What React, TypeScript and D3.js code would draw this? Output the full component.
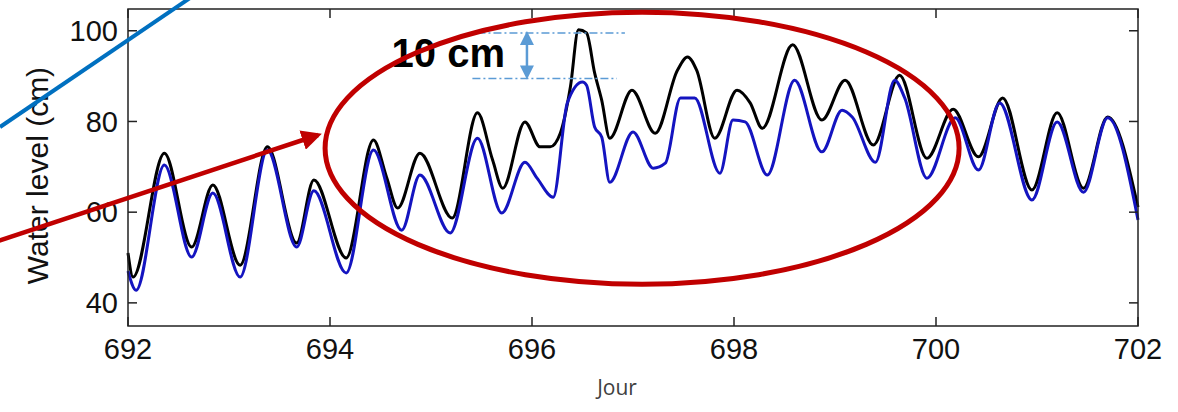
import React, { useEffect } from "react";
import * as d3 from "d3";

// time axis (days) and the two water level records (cm)
const blackDays = [692.0, 692.05, 692.36, 692.63, 692.84, 693.11, 693.38, 693.67, 693.84, 694.16, 694.43, 694.56, 694.67, 694.89, 695.21, 695.46, 695.61, 695.71, 695.93, 696.08, 696.18, 696.28, 696.38, 696.46, 696.54, 696.62, 696.69, 696.77, 696.99, 697.22, 697.44, 697.54, 697.63, 697.81, 698.03, 698.16, 698.28, 698.58, 698.87, 699.1, 699.38, 699.64, 699.91, 700.17, 700.42, 700.66, 700.95, 701.2, 701.46, 701.7, 702.0];
const blackLevel = [51.0, 45.7, 73.0, 52.3, 66.0, 48.3, 74.4, 53.2, 67.1, 49.9, 75.9, 67.7, 60.9, 73.0, 58.7, 81.9, 71.5, 65.3, 79.9, 74.4, 74.4, 77.4, 87.6, 100.2, 99.5, 90.7, 84.7, 76.3, 86.9, 77.4, 91.3, 94.2, 91.3, 76.3, 86.9, 84.1, 78.5, 96.9, 80.3, 89.1, 74.8, 90.2, 71.9, 82.7, 72.2, 85.2, 64.9, 81.9, 65.3, 81.0, 61.1];

const blueDays = [692.0, 692.08, 692.36, 692.63, 692.84, 693.11, 693.38, 693.67, 693.84, 694.16, 694.43, 694.71, 694.89, 695.19, 695.46, 695.7, 695.93, 696.05, 696.21, 696.35, 696.5, 696.54, 696.62, 696.69, 696.77, 697.0, 697.2, 697.32, 697.47, 697.61, 697.86, 697.99, 698.11, 698.33, 698.6, 698.87, 699.07, 699.17, 699.4, 699.59, 699.69, 699.91, 700.19, 700.42, 700.63, 700.95, 701.2, 701.46, 701.7, 702.0];
const blueLevel = [47.0, 42.8, 70.4, 50.1, 64.2, 45.7, 73.7, 52.3, 64.7, 46.6, 73.7, 56.0, 68.2, 55.4, 76.3, 59.8, 71.0, 67.5, 63.3, 84.1, 88.7, 88.0, 78.8, 76.6, 66.6, 77.7, 69.7, 70.8, 85.2, 85.2, 68.6, 80.3, 79.9, 68.2, 89.1, 73.3, 82.5, 81.0, 71.0, 89.1, 85.2, 67.5, 80.8, 69.3, 84.1, 62.7, 79.9, 64.4, 80.8, 58.3];

const xTicks = [692, 694, 696, 698, 700, 702];
const yTicks = [40, 60, 80, 100];

const width = 1178;
const height = 412;
const margin = { top: 9, right: 40, bottom: 86, left: 128 };

export default function App() {
    useEffect(() => {
        document.body.style.margin = "0";
    }, []);

    const innerW = width - margin.left - margin.right;
    const innerH = height - margin.top - margin.bottom;

    const x = d3.scaleLinear().domain([692, 702]).range([0, innerW]);
    const y = d3.scaleLinear().domain([34.9, 104.8]).range([innerH, 0]);

    const line = d3.line<[number, number]>()
        .x(d => x(d[0]))
        .y(d => y(d[1]))
        .curve(d3.curveMonotoneX);

    const blackPts = blackDays.map((t, i) => [t, blackLevel[i]] as [number, number]);
    const bluePts = blueDays.map((t, i) => [t, blueLevel[i]] as [number, number]);

    const tickLen = 9;
    const font = "'Liberation Sans', Arial, sans-serif";

    // 10 cm marker, in data units
    const hiY = y(99.5);
    const loY = y(89.5);
    const arrowX = x(695.95);

    // ellipse around the storm surge period
    const ecx = margin.left + x(697.09);
    const ecy = margin.top + y(74.1);

    return (
        <svg width={width} height={height} style={{ display: "block", background: "#fff" }}>
            <defs>
                <marker id="redHead" viewBox="0 0 10 10" refX="8" refY="5" markerWidth="4.5" markerHeight="4.5" orient="auto">
                    <path d="M0,0 L10,5 L0,10 z" fill="#c00000" />
                </marker>
            </defs>
            <g transform={`translate(${margin.left},${margin.top})`}>
                {/* data */}
                <path d={line(blackPts) || ""} fill="none" stroke="#000" strokeWidth={3} strokeLinejoin="round" />
                <path d={line(bluePts) || ""} fill="none" stroke="#1414c0" strokeWidth={3} strokeLinejoin="round" />

                {/* frame */}
                <rect x={0} y={0} width={innerW} height={innerH} fill="none" stroke="#222" strokeWidth={1.5} />

                {xTicks.map(t => (
                    <g key={"x" + t}>
                        <line x1={x(t)} x2={x(t)} y1={innerH} y2={innerH - tickLen} stroke="#222" strokeWidth={1.5} />
                        <line x1={x(t)} x2={x(t)} y1={0} y2={tickLen} stroke="#222" strokeWidth={1.5} />
                        <text x={x(t)} y={innerH + 33} textAnchor="middle" fontFamily={font} fontSize={29} fill="#111">{t}</text>
                    </g>
                ))}
                {yTicks.map(v => (
                    <g key={"y" + v}>
                        <line x1={0} x2={tickLen} y1={y(v)} y2={y(v)} stroke="#222" strokeWidth={1.5} />
                        <line x1={innerW} x2={innerW - tickLen} y1={y(v)} y2={y(v)} stroke="#222" strokeWidth={1.5} />
                        <text x={-10} y={y(v)} dy="0.35em" textAnchor="end" fontFamily={font} fontSize={29} fill="#111">{v}</text>
                    </g>
                ))}

                <text transform={`translate(${-80},${innerH / 2 + 8}) rotate(-90)`} textAnchor="middle" fontFamily={font} fontSize={30} fill="#111">Water level (cm)</text>

                {/* 10 cm marker */}
                <line x1={x(695.46)} x2={x(696.92)} y1={hiY} y2={hiY} stroke="#5b9bd5" strokeWidth={1.5} strokeDasharray="8 3 2 3" />
                <line x1={x(695.41)} x2={x(696.84)} y1={loY} y2={loY} stroke="#5b9bd5" strokeWidth={1.5} strokeDasharray="8 3 2 3" />
                <line x1={arrowX} x2={arrowX} y1={hiY + 8} y2={loY - 8} stroke="#5b9bd5" strokeWidth={2.5} />
                <path d={`M${arrowX},${hiY - 2} l-7,14 l14,0 z`} fill="#5b9bd5" />
                <path d={`M${arrowX},${loY + 1} l-7,-14 l14,0 z`} fill="#5b9bd5" />
                <text x={x(694.61)} y={hiY + 34} fontFamily={font} fontWeight="bold" fontSize={40} fill="#000">10 cm</text>
            </g>

            {/* annotations */}
            <ellipse cx={ecx} cy={ecy} rx={317} ry={136} fill="none" stroke="#c00000" strokeWidth={5} />
            <line x1={0} y1={127} x2={190} y2={-2} stroke="#0070c0" strokeWidth={4} />
            <line x1={-2} y1={241} x2={318} y2={135} stroke="#c00000" strokeWidth={4.5} markerEnd="url(#redHead)" />

            <text x={617} y={395} textAnchor="middle" fontFamily="'Open Sans', sans-serif" fontSize={21} fill="#404040">Jour</text>
        </svg>
    );
}
